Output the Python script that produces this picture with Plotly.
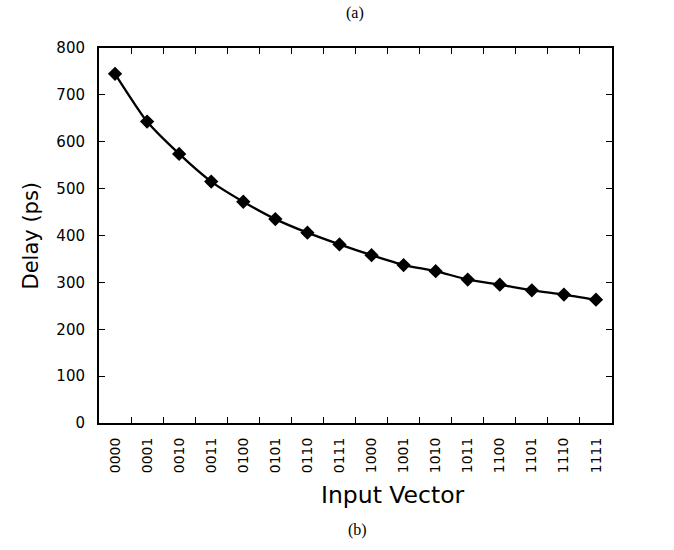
import plotly.graph_objects as go

vectors = ["0000", "0001", "0010", "0011", "0100", "0101", "0110", "0111",
           "1000", "1001", "1010", "1011", "1100", "1101", "1110", "1111"]
delay_ps = [745, 643, 574, 515, 472, 435, 406, 381, 358, 337, 324, 306, 295, 283, 274, 263]

fig = go.Figure()
fig.add_trace(go.Scatter(
    x=list(range(len(vectors))), y=delay_ps, mode="lines+markers",
    line=dict(color="black", width=2.3, shape="spline", smoothing=0.6),
    marker=dict(symbol="diamond", size=11, color="black"),
    showlegend=False,
))

sans = "DejaVu Sans, Liberation Sans, Arial, sans-serif"
serif = "Liberation Serif, Times New Roman, serif"

fig.update_layout(
    width=674, height=550,
    margin=dict(l=99, r=62, t=48, b=127),
    paper_bgcolor="white", plot_bgcolor="white",
    font=dict(family=sans, color="black"),
    xaxis=dict(
        range=[-0.5, 15.5],
        tickmode="array", tickvals=list(range(len(vectors))), ticktext=vectors,
        tickangle=-90, tickfont=dict(size=14, family=sans),
        ticks="", showgrid=False, zeroline=False,
        showline=True, linecolor="black", linewidth=2, mirror="ticks",
        ticklabelstandoff=7,
        minor=dict(tickmode="array",
                   tickvals=[i + 0.5 for i in range(len(vectors) - 1)],
                   ticks="inside", ticklen=6, tickwidth=1, tickcolor="black"),
    ),
    yaxis=dict(
        range=[0, 800], dtick=100,
        tickfont=dict(size=15, family=sans),
        ticks="inside", ticklen=6, tickwidth=1, tickcolor="black",
        showgrid=False, zeroline=False,
        showline=True, linecolor="black", linewidth=2, mirror="ticks",
        ticklabelstandoff=9,
    ),
)

fig.add_annotation(text="Delay (ps)", xref="paper", yref="paper",
                   x=(30 - 99) / 513, y=0.5, xanchor="center", yanchor="middle",
                   textangle=-90, showarrow=False, font=dict(size=21, family=sans))
fig.add_annotation(text="Input Vector", xref="paper", yref="paper",
                   x=(393 - 99) / 513, y=0.0, yshift=-72, xanchor="center", yanchor="middle",
                   showarrow=False, font=dict(size=23.5, family=sans))
fig.add_annotation(text="(a)", xref="paper", yref="paper", x=(355 - 99) / 513, y=1.0,
                   yshift=35, xanchor="center", yanchor="middle",
                   showarrow=False, font=dict(size=16, family=serif))
fig.add_annotation(text="(b)", xref="paper", yref="paper", x=(357 - 99) / 513, y=0.0,
                   yshift=-107, xanchor="center", yanchor="middle",
                   showarrow=False, font=dict(size=16, family=serif))

fig.write_html("out.html")
